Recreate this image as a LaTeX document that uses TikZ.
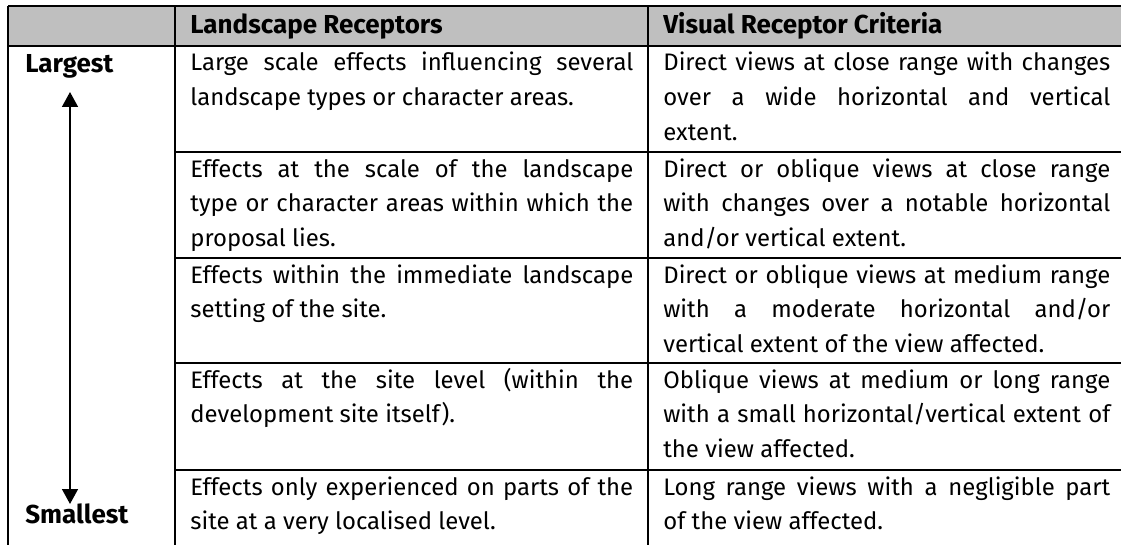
\documentclass[tikz,border=0pt]{standalone}
\usepackage{fontspec}
\setmainfont{Fira Sans}
\usetikzlibrary{arrows.meta}

\begin{document}
\begin{tikzpicture}[x=0.02cm, y=-0.02cm,
  rule/.style={draw=black, line width=1.1pt},
  txt/.style={anchor=base west, inner sep=0pt,
    font=\fontsize{13.6}{19.9}\selectfont},
  head/.style={txt, font=\fontsize{14.8}{19.9}\selectfont\bfseries},
  cell/.style={txt, align=justify, text width=8.86cm},
  wcell/.style={cell, text width=8.94cm},
  scalearrow/.style={draw, line width=1.1pt,
    {Triangle[length=8.5pt, width=9pt]}-{Triangle[length=8.5pt, width=9pt]}},
]
  \useasboundingbox (0,0) rectangle (1121,544);
  \clip (0,0) rectangle (1121,544);

  % === header band and rules ===
  \fill[black!25] (8,6) rectangle (1130,46);
  \draw[rule] (8,6) -- (1130,6);
  \draw[rule] (8,46) -- (1130,46);
  \foreach \y in {152,258,363,470}
    \draw[rule] (175,\y) -- (1130,\y);
  \foreach \x in {8,175,648}
    \draw[rule] (\x,6) -- (\x,560);

  % === header ===
  \node[head] (hland) at (190,34) {Landscape Receptors};
  \node[head] (hvis)  at (663,34) {Visual Receptor Criteria};

  % === scale (left column) ===
  \node[head] (largest)  at (25,72)  {Largest};
  \node[head] (smallest) at (25,523) {Smallest};
  \coordinate (hi) at (70,92);
  \coordinate (lo) at (70,504);
  \draw[scalearrow] (hi) -- (lo);

  % === landscape receptors ===
  \node[cell] (land1) at (190,71) {Large scale effects influencing several\linebreak
    landscape types or character areas.};
  \node[cell] (land2) at (190,177) {Effects at the scale of the landscape\linebreak
    type or character areas within which the\linebreak proposal lies.};
  \node[cell] (land3) at (190,283) {Effects within the immediate landscape\linebreak
    setting of the site.};
  \node[cell] (land4) at (190,388) {Effects at the site level (within the\linebreak
    development site itself).};
  \node[cell] (land5) at (190,495) {Effects only experienced on parts of the\linebreak
    site at a very localised level.};

  % === visual receptor criteria ===
  \node[wcell] (vis1) at (663,71) {Direct views at close range with changes\linebreak
    over a wide horizontal and vertical\linebreak extent.};
  \node[wcell] (vis2) at (663,177) {Direct or oblique views at close range\linebreak
    with changes over a notable horizontal\linebreak and/or vertical extent.};
  \node[wcell] (vis3) at (663,283) {Direct or oblique views at medium range\linebreak
    with a moderate horizontal and/or\linebreak vertical extent of the view affected.};
  \node[wcell] (vis4) at (663,388) {Oblique views at medium or long range\linebreak
    with a small horizontal/vertical extent of\linebreak the view affected.};
  \node[wcell] (vis5) at (663,495) {Long range views with a negligible part\linebreak
    of the view affected.};

\end{tikzpicture}
\end{document}
